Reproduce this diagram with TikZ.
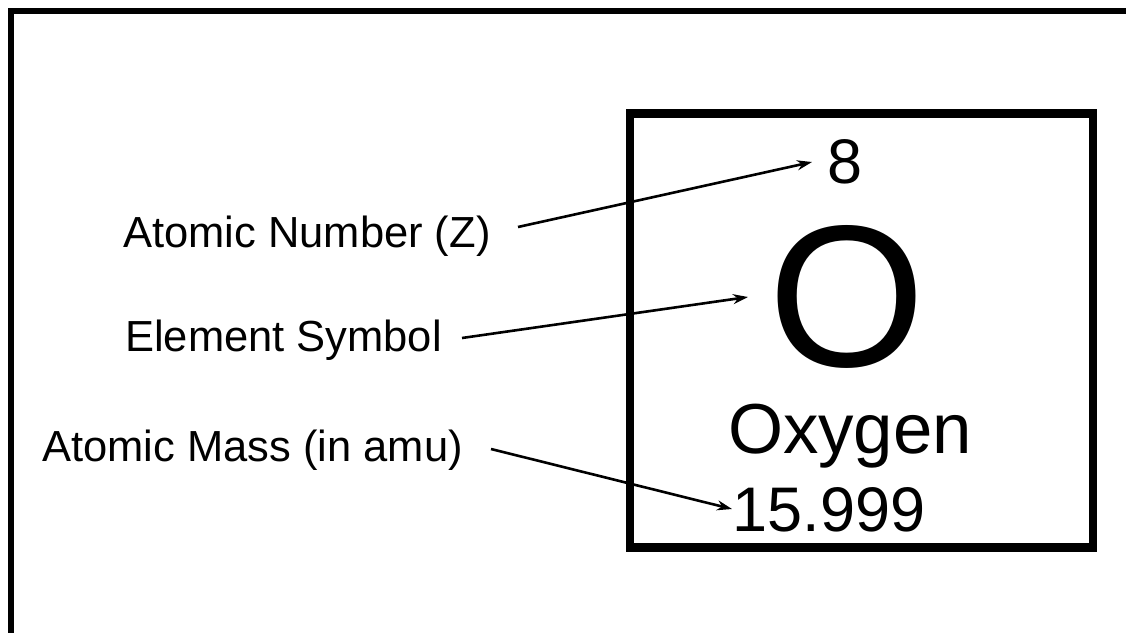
\documentclass[tikz,border=0pt]{standalone}
\usepackage{fontspec}
\setmainfont{Liberation Sans}
\usetikzlibrary{arrows.meta}
\begin{document}
\begin{tikzpicture}[x=1pt,y=-1pt,
  lbl/.style={anchor=base west,inner sep=0pt,font=\fontsize{43.5}{52}\selectfont},
  num/.style={anchor=base,inner sep=0pt,font=\fontsize{63}{70}\selectfont},
  arr/.style={line width=2.6pt,-{Stealth[length=15pt,width=10pt]}},
  frame/.style={line width=5.5pt},
  cell/.style={draw,line width=8.5pt}]
\useasboundingbox (0,0) rectangle (1126,632);
\fill[white] (0,0) rectangle (1126,632);
\draw[frame] (11,640) -- (11,11) -- (1130,11);
\node[cell,minimum width=463pt,minimum height=434pt,anchor=north west,inner sep=0pt] (box) at (625.5,109) {};
\node[lbl] (an) at (123,247) {Atomic Number (Z)};
\node[lbl] (es) at (125,351) {Element Symbol};
\node[lbl] (am) at (42,461) {Atomic Mass (in amu)};
\node[num] (z) at (845,183) {8};
\node[anchor=base,inner sep=0pt,text depth=0pt,font=\fontsize{202}{210}\selectfont] (sym) at (847,366) {O};
\node[anchor=base,inner sep=0pt,font=\fontsize{70.8}{80}\selectfont] (name) at (850,453) {Oxygen};
\node[num] (mass) at (829,531) {15.999};
\coordinate (anS) at (518,227);
\coordinate (anE) at (812,162);
\coordinate (esS) at (462,338);
\coordinate (esE) at (748,297);
\coordinate (amS) at (491,449);
\coordinate (amE) at (732,509);
\draw[arr] (anS) -- (anE);
\draw[arr] (esS) -- (esE);
\draw[arr] (amS) -- (amE);
\end{tikzpicture}
\end{document}
